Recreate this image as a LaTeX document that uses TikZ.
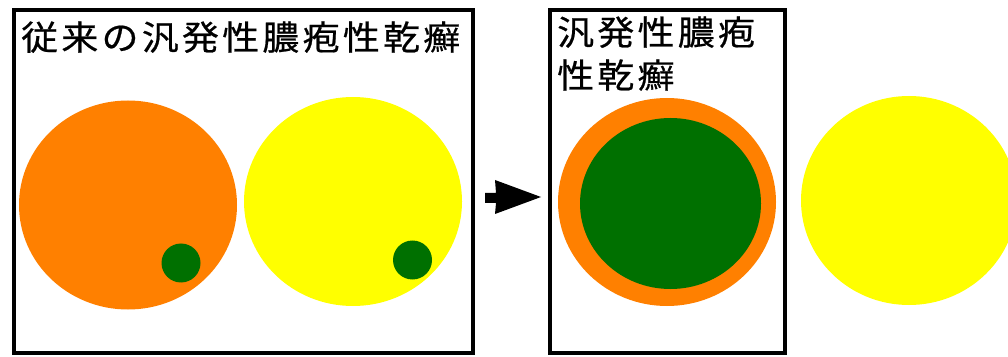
\documentclass[tikz,border=0pt]{standalone}
\usepackage{fontspec}
\usepackage{graphicx}
\newfontfamily\jpfont[LetterSpace=9,FakeBold=0.6]{Noto Sans CJK JP}
\definecolor{psorange}{RGB}{255,128,0}
\definecolor{psyellow}{RGB}{255,255,0}
\definecolor{psgreen}{RGB}{0,112,0}
\tikzset{
  panel/.style={draw=black, line width=4pt},
  title/.style={inner sep=0pt, anchor=base west, align=left, font={\jpfont\fontsize{34}{43}\selectfont}}
}
\newcommand{\wid}[1]{\scalebox{1.085}[1]{#1}}
\begin{document}
\begin{tikzpicture}[x=1pt,y=1pt]
\useasboundingbox (0,0) rectangle (1008,356);
\clip (0,0) rectangle (1008,356);
\fill[white] (0,0) rectangle (1008,356);
% panel 1
\draw[panel] (14,345.5) rectangle (473,3);
\node[title] (t1) at (21,306) {\wid{従来の汎発性膿疱性乾癬}};
\fill[psorange] (128,151) ellipse [x radius=109, y radius=104.5];
\fill[psgreen] (181,93) circle [radius=19.5];
\fill[psyellow] (353,154.5) ellipse [x radius=109, y radius=104.5];
\fill[psgreen] (412.5,96) circle [radius=19.5];
% arrow
\fill[black] (485,163) -- (496,163) -- (495,176) -- (541,159) -- (495,142) -- (496,153) -- (485,153) -- cycle;
% panel 2
\draw[panel] (549.5,346) rectangle (785,3);
\node[title] (t2) at (557,268) {\wid{汎発性膿疱}\\\wid{性乾癬}};
\fill[psorange] (667,154) ellipse [x radius=109, y radius=104];
\fill[psgreen] (670.5,152.5) ellipse [x radius=90.5, y radius=85.5];
\fill[psyellow] (909,155.5) ellipse [x radius=108, y radius=104.5];
\end{tikzpicture}
\end{document}
